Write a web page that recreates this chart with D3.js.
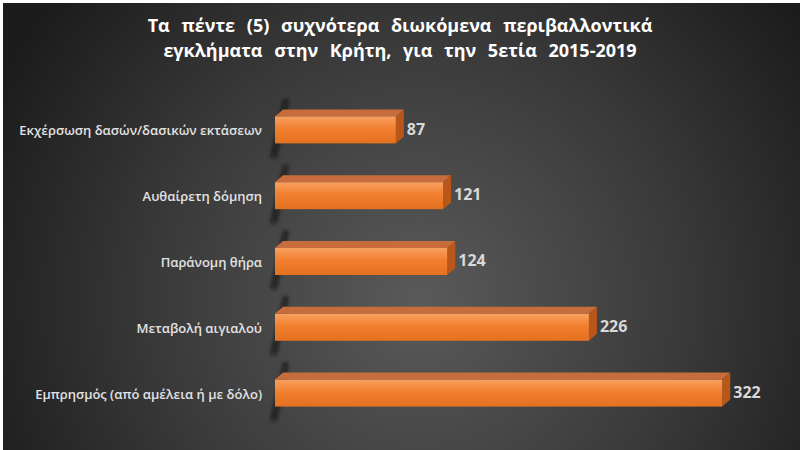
<!DOCTYPE html>
<html>
<head>
<meta charset="utf-8">
<script src="https://cdn.jsdelivr.net/npm/d3@7"></script>
<style>
  html, body { margin: 0; padding: 0; background: #fff; }
  svg { display: block; }
</style>
</head>
<body>
<div id="chart"></div>
<script>
// -------------------------------------------------------------
// Data
// -------------------------------------------------------------
const titleLines = [
  "Τα πέντε (5) συχνότερα διωκόμενα περιβαλλοντικά",
  "εγκλήματα στην Κρήτη, για την 5ετία 2015-2019"
];
const categories = [
  "Εκχέρσωση δασών/δασικών εκτάσεων",
  "Αυθαίρετη δόμηση",
  "Παράνομη θήρα",
  "Μεταβολή αιγιαλού",
  "Εμπρησμός (από αμέλεια ή με δόλο)"
];
const values = [87, 121, 124, 226, 322];

const W = 800, H = 450;
const depth = { dx: 8, dy: 7 };

const svg = d3.select("#chart").append("svg")
  .attr("width", W)
  .attr("height", H);

const defs = svg.append("defs");

// background radial gradient
const bg = defs.append("radialGradient")
  .attr("id", "bgGrad")
  .attr("gradientUnits", "userSpaceOnUse")
  .attr("cx", 420).attr("cy", 300).attr("r", 470);
bg.append("stop").attr("offset", "0%").attr("stop-color", "#5a5a5a");
bg.append("stop").attr("offset", "55%").attr("stop-color", "#3a3a3a");
bg.append("stop").attr("offset", "100%").attr("stop-color", "#1c1c1c");

// front face gradient
const front = defs.append("linearGradient")
  .attr("id", "frontGrad")
  .attr("x1", 0).attr("y1", 0).attr("x2", 0).attr("y2", 1);
front.append("stop").attr("offset", "0%").attr("stop-color", "#f8a160");
front.append("stop").attr("offset", "45%").attr("stop-color", "#f17f2f");
front.append("stop").attr("offset", "100%").attr("stop-color", "#e4711f");

defs.append("filter")
  .attr("id", "blur")
  .attr("x", "-100%").attr("y", "-50%")
  .attr("width", "300%").attr("height", "200%")
  .append("feGaussianBlur").attr("stdDeviation", 2.2);

svg.append("rect")
  .attr("x", 3).attr("y", 3)
  .attr("width", W - 3).attr("height", H - 3)
  .attr("fill", "url(#bgGrad)");

// -------------------------------------------------------------
// Title
// -------------------------------------------------------------
svg.append("g").selectAll("text")
  .data(titleLines)
  .join("text")
  .attr("x", 400)
  .attr("y", (d, i) => 32 + i * 25)
  .attr("text-anchor", "middle")
  .attr("font-family", "'Open Sans', sans-serif")
  .attr("font-weight", "bold")
  .attr("font-size", 18)
  .attr("word-spacing", 7)
  .attr("fill", "#ffffff")
  .text(d => d);

// -------------------------------------------------------------
// Scales
// -------------------------------------------------------------
const x = d3.scaleLinear()
  .domain([0, 350])
  .range([275, 275 + 350 * 1.389]);

const y = d3.scaleBand()
  .domain(categories)
  .range([97, 426])
  .paddingInner(0.59)
  .paddingOuter(0.295);

const data = categories.map((c, i) => ({ name: c, value: values[i] }));
const h = y.bandwidth();
const x0 = x(0);

// -------------------------------------------------------------
// Bars (3D look)
// -------------------------------------------------------------
const bars = svg.append("g").selectAll("g")
  .data(data)
  .join("g");

// soft shadow along the left edge
bars.append("path")
  .attr("d", d => {
    const yt = y(d.name);
    return `M${x0 + depth.dx + 1},${yt - depth.dy - 10}
            L${x0 + depth.dx + 5},${yt - depth.dy - 10}
            L${x0 + 1},${yt + h + 14}
            L${x0 - 4},${yt + h + 14} Z`;
  })
  .attr("fill", "#0a0a0a")
  .attr("opacity", 0.85)
  .attr("filter", "url(#blur)");

// top face
bars.append("path")
  .attr("d", d => {
    const yt = y(d.name), x1 = x(d.value);
    return `M${x0},${yt} L${x0 + depth.dx},${yt - depth.dy}
            L${x1 + depth.dx},${yt - depth.dy} L${x1},${yt} Z`;
  })
  .attr("fill", "#c76d3d");

// side face
bars.append("path")
  .attr("d", d => {
    const yt = y(d.name), x1 = x(d.value);
    return `M${x1},${yt} L${x1 + depth.dx},${yt - depth.dy}
            L${x1 + depth.dx},${yt + h - depth.dy} L${x1},${yt + h} Z`;
  })
  .attr("fill", "#b9571a");

// front face
bars.append("rect")
  .attr("x", x0)
  .attr("y", d => y(d.name))
  .attr("width", d => x(d.value) - x0)
  .attr("height", h)
  .attr("fill", "url(#frontGrad)");

// value labels
bars.append("text")
  .attr("x", d => x(d.value) + depth.dx + 3)
  .attr("y", d => y(d.name) + h / 2 - 1)
  .attr("dy", "0.35em")
  .attr("font-family", "'Open Sans', sans-serif")
  .attr("font-weight", "bold")
  .attr("font-size", 16)
  .attr("fill", "#d9d9d9")
  .text(d => d.value);

// category labels
svg.append("g").selectAll("text")
  .data(data)
  .join("text")
  .attr("x", 262)
  .attr("y", d => y(d.name) + h / 2 + 1)
  .attr("dy", "0.35em")
  .attr("text-anchor", "end")
  .attr("font-family", "'Open Sans', sans-serif")
  .attr("font-weight", 600)
  .attr("font-size", 13)
  .attr("fill", "#e2e2e2")
  .text(d => d.name);
</script>
</body>
</html>
